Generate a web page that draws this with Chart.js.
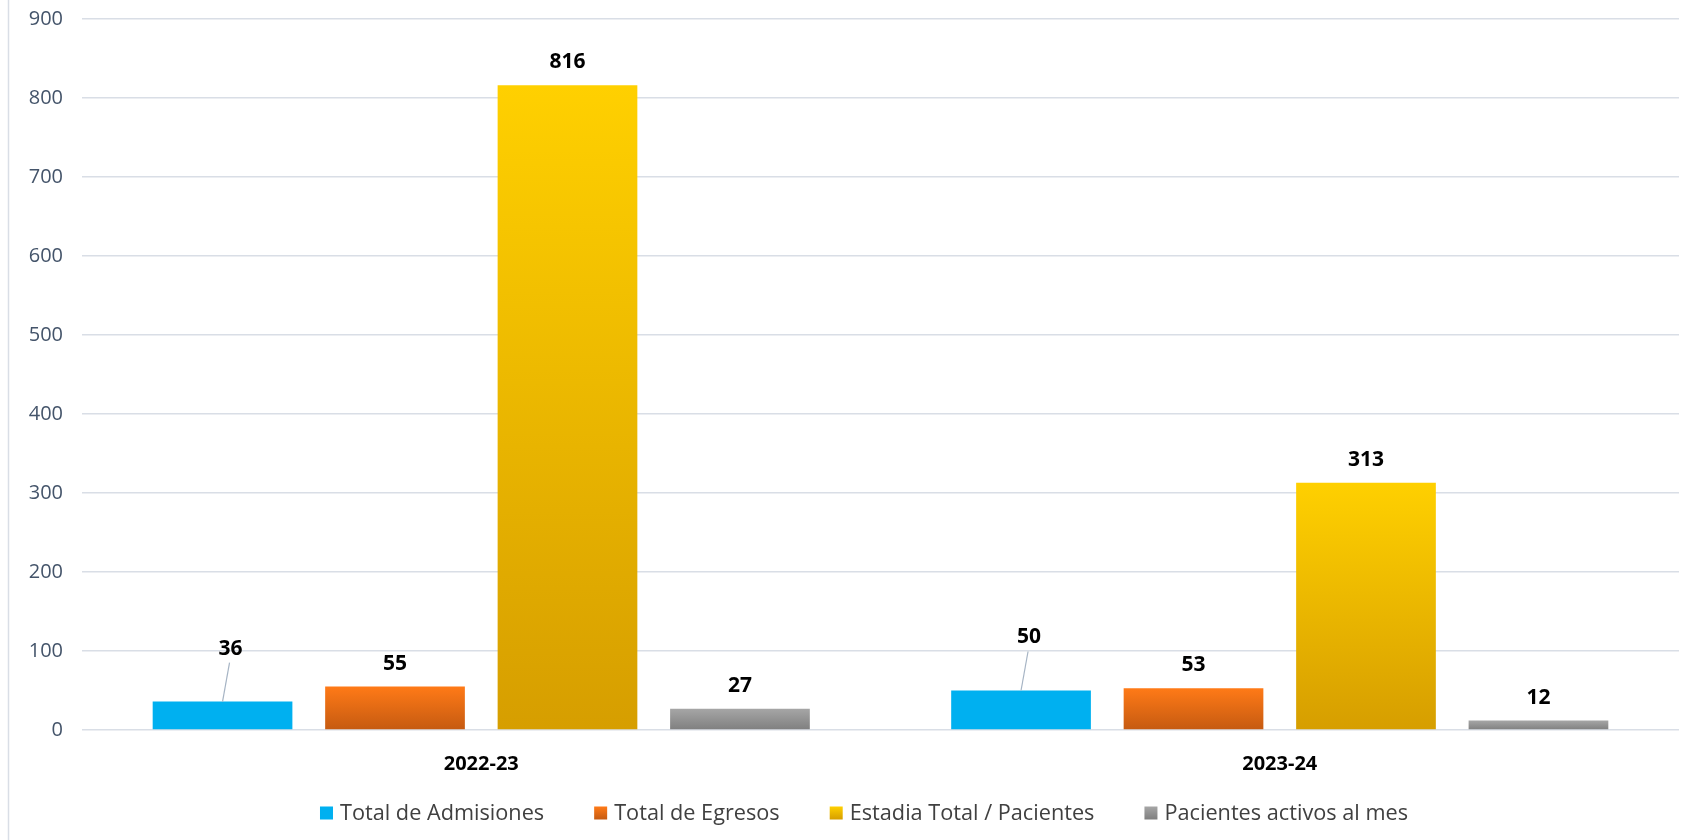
<!DOCTYPE html>
<html>
<head>
<meta charset="utf-8">
<script src="https://cdn.jsdelivr.net/npm/chart.js@4"></script>
<style>
  html, body { margin: 0; padding: 0; background: #fff; }
  #wrap { position: relative; width: 1696px; height: 840px; }
</style>
</head>
<body>
<div id="wrap"><canvas id="chart"></canvas></div>
<script>
const categories = ["2022-23", "2023-24"];
const seriesNames = [
  "Total de Admisiones",
  "Total de Egresos",
  "Estadia Total / Pacientes",
  "Pacientes activos al mes",
];
const admisiones = [36, 50];
const egresos = [55, 53];
const estadia = [816, 313];
const activos = [27, 12];
const yTicks = [0, 100, 200, 300, 400, 500, 600, 700, 800, 900];

const FONT = "'Open Sans', 'Noto Sans', sans-serif";

// top / bottom colours for each series (blue is flat)
const palette = [
  ["#00B0F0", "#00B0F0"],
  ["#FF7A17", "#C55A11"],
  ["#FFD000", "#D69E00"],
  ["#A6A6A6", "#7F7F7F"],
];

function barFill(idx) {
  return (context) => {
    const chart = context.chart;
    const { ctx, chartArea, scales } = chart;
    if (!chartArea || context.type !== "data") return palette[idx][0];
    const top = scales.y.getPixelForValue(context.parsed.y);
    const bottom = scales.y.getPixelForValue(0);
    if (!isFinite(top) || bottom - top < 1) return palette[idx][0];
    const g = ctx.createLinearGradient(0, top, 0, bottom);
    g.addColorStop(0, palette[idx][0]);
    g.addColorStop(1, palette[idx][1]);
    return g;
  };
}

// value labels above bars, the blue ones pulled up with a leader line
const valueLabels = {
  id: "valueLabels",
  afterDatasetsDraw(chart) {
    const ctx = chart.ctx;
    ctx.save();
    ctx.font = "bold 21px " + FONT;
    ctx.fillStyle = "#000";
    ctx.textAlign = "center";
    ctx.textBaseline = "middle";
    chart.data.datasets.forEach((ds, i) => {
      const meta = chart.getDatasetMeta(i);
      meta.data.forEach((bar, j) => {
        const v = ds.data[j];
        let lx = bar.x;
        let ly = bar.y - 23;
        if (i === 0) {
          lx = bar.x + 8;
          ly = bar.y - 53;
          ctx.strokeStyle = "#A6B4C4";
          ctx.lineWidth = 1.2;
          ctx.beginPath();
          ctx.moveTo(bar.x, bar.y);
          ctx.lineTo(lx - 1, ly + 14);
          ctx.stroke();
        }
        ctx.fillText(String(v), lx, ly);
      });
    });
    ctx.restore();
  },
};

// legend drawn by hand so the spacing matches the original
const bottomLegend = {
  id: "bottomLegend",
  afterDraw(chart) {
    const ctx = chart.ctx;
    const box = 13;
    const textGap = 7;
    const itemGap = 50;
    const y = 813;
    ctx.save();
    ctx.font = "21.7px " + FONT;
    const widths = chart.data.datasets.map((ds) => ctx.measureText(ds.label).width);
    const total =
      widths.reduce((a, w) => a + box + textGap + w, 0) + itemGap * (widths.length - 1);
    let x = 864 - total / 2;
    ctx.textBaseline = "middle";
    ctx.textAlign = "left";
    chart.data.datasets.forEach((ds, i) => {
      const g = ctx.createLinearGradient(0, y - box / 2, 0, y + box / 2);
      g.addColorStop(0, palette[i][0]);
      g.addColorStop(1, palette[i][1]);
      ctx.fillStyle = g;
      ctx.fillRect(x, y - box / 2, box, box);
      ctx.fillStyle = "#404040";
      ctx.fillText(ds.label, x + box + textGap, y + 1);
      x += box + textGap + widths[i] + itemGap;
    });
    ctx.restore();
  },
};

// outer left frame line
const frameLine = {
  id: "frameLine",
  beforeDraw(chart) {
    const ctx = chart.ctx;
    ctx.save();
    ctx.strokeStyle = "#D9DEE6";
    ctx.lineWidth = 1.5;
    ctx.beginPath();
    ctx.moveTo(8.5, 0);
    ctx.lineTo(8.5, chart.height);
    ctx.stroke();
    ctx.restore();
  },
};

const seriesData = [admisiones, egresos, estadia, activos];

new Chart(document.getElementById("chart"), {
  type: "bar",
  data: {
    labels: categories,
    datasets: seriesData.map((d, i) => ({
      label: seriesNames[i],
      data: d,
      backgroundColor: barFill(i),
      borderWidth: 0,
      categoryPercentage: 0.864,
      barPercentage: 0.81,
    })),
  },
  options: {
    responsive: true,
    maintainAspectRatio: false,
    animation: false,
    layout: { padding: { top: 19, right: 17, left: 0, bottom: 0 } },
    scales: {
      x: {
        grid: { display: false },
        border: { display: false },
        afterFit: (scale) => {
          scale.height = 110;
        },
        ticks: {
          color: "#000",
          font: { family: FONT, size: 20, weight: "bold" },
          padding: 14,
        },
      },
      y: {
        min: 0,
        max: yTicks[yTicks.length - 1],
        afterBuildTicks: (scale) => {
          scale.ticks = yTicks.map((v) => ({ value: v }));
        },
        afterFit: (scale) => {
          scale.width = 82;
          scale.paddingTop = 0;
          scale.paddingBottom = 0;
        },
        grid: { color: "#D9DEE6", lineWidth: 1.5, drawTicks: false },
        border: { display: false },
        ticks: {
          color: "#44546A",
          font: { family: FONT, size: 20 },
          padding: 19,
        },
      },
    },
    plugins: {
      legend: { display: false },
      tooltip: { enabled: false },
    },
  },
  plugins: [frameLine, valueLabels, bottomLegend],
});
</script>
</body>
</html>
